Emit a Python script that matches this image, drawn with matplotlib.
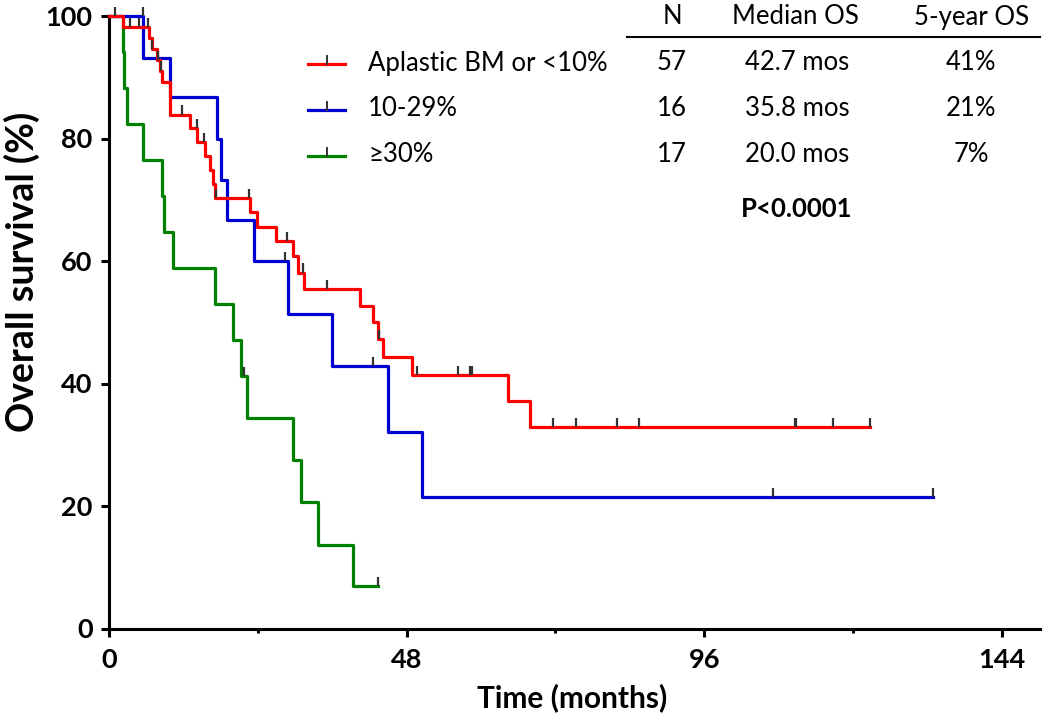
import numpy as np
import matplotlib
matplotlib.use("Agg")
import matplotlib.pyplot as plt
from matplotlib.lines import Line2D

plt.rcParams['font.family'] = ['Lato', 'DejaVu Sans']

# ---- data ----
red_t = [0, 2.16, 6.45, 6.84, 7.75, 8.18, 8.46, 9.80, 13.02, 14.2, 15.43, 16.24, 16.69, 17.06,
         22.7, 23.8, 26.9, 29.6, 30.5, 31.4, 40.5, 42.6, 43.4, 44.1, 48.8, 64.4, 67.9]
red_s = [100, 98.2, 96.4, 94.6, 92.8, 91.1, 89.3, 83.9, 81.7, 79.4, 77.2, 74.9, 72.6, 70.3,
         68.0, 65.6, 63.2, 60.8, 58.1, 55.4, 52.7, 50.0, 47.2, 44.3, 41.4, 37.1, 32.9]
red_end = 122.8
red_cens = [0.9, 3.3, 4.8, 6.2, 6.9, 7.8, 8.3, 11.7, 14.1, 15.3, 17.2, 22.6, 28.6, 31.2, 35.2,
            43.6, 49.7, 56.2, 58.2, 58.6, 71.6, 75.3, 82.0, 85.5, 110.6, 110.9, 116.8, 122.8]

blue_t = [0, 5.49, 9.80, 17.33, 17.98, 18.94, 23.35, 28.9, 36.0, 44.9, 50.4]
blue_s = [100, 93.2, 86.7, 80.0, 73.3, 66.7, 60.0, 51.4, 42.8, 32.1, 21.4]
blue_end = 133.0
blue_cens = [5.4, 28.4, 42.5, 107.1, 133.0]

green_t = [0, 2.16, 2.37, 2.81, 5.49, 8.46, 8.83, 10.33, 17.06, 19.9, 21.2, 22.2, 29.7, 31.0, 33.7, 39.4]
green_s = [100, 94.1, 88.2, 82.4, 76.5, 70.6, 64.7, 58.8, 52.9, 47.1, 41.2, 34.3, 27.5, 20.6, 13.7, 6.9]
green_end = 43.4
green_cens = [21.7, 43.4]

group_labels = ["Aplastic BM or <10%", "10-29%", "\u226530%"]
n_values = ["57", "16", "17"]
median_os = ["42.7 mos", "35.8 mos", "20.0 mos"]
five_year = ["41%", "21%", "7%"]
header = ["N", "Median OS", "5-year OS"]
p_value = "P<0.0001"
colors = ["#FF0000", "#0000D0", "#008000"]

x_major = [0, 48, 96, 144]
x_minor = [24, 72, 120]
y_ticks = [0, 20, 40, 60, 80, 100]

W, H = 1050, 721
fig = plt.figure(figsize=(W / 100, H / 100), dpi=100)

def fx(px):
    return px / W

def fy(py):
    return 1 - py / H

x0, x1 = 109.3, 1040
y0, y1 = 628.5, 16
ax = fig.add_axes([fx(x0), fy(y0), fx(x1) - fx(x0), (y0 - y1) / H])
ax.set_xlim(0, 150.2)
ax.set_ylim(0, 100)

curves = [(red_t, red_s, red_end, red_cens), (blue_t, blue_s, blue_end, blue_cens),
          (green_t, green_s, green_end, green_cens)]
for idx in [2, 1, 0]:
    t, s, end, cens = curves[idx]
    tt = list(t) + [end]
    ss = list(s) + [s[-1]]
    ax.step(tt, ss, where='post', color=colors[idx], lw=2.3, clip_on=False, zorder=3 + (2 - idx))
    ta = np.asarray(t)
    sa = np.asarray(s)
    ci = np.searchsorted(ta, np.asarray(cens), side='right') - 1
    lev = sa[ci]
    ax.vlines(cens, lev, lev + 1.5, color='#333333', lw=1.6, zorder=6, clip_on=False)

for sp in ['top', 'right']:
    ax.spines[sp].set_visible(False)
for sp in ['left', 'bottom']:
    ax.spines[sp].set_linewidth(2.2)
ax.spines['left'].set_bounds(0, 100)

ax.set_xticks(x_major)
ax.set_xticks(x_minor, minor=True)
ax.set_yticks(y_ticks)
ax.tick_params(axis='both', which='major', direction='out', length=6, width=2.2, pad=6,
               labelsize=19.5)
ax.tick_params(axis='x', which='minor', direction='out', length=3, width=2.2)
ax.tick_params(axis='x', which='major', pad=8)
for lab in ax.get_xticklabels() + ax.get_yticklabels():
    lab.set_fontweight('bold')

fig.text(fx(22), fy(272), "Overall survival (%)", rotation=90, ha='center', va='center',
         fontsize=27, fontweight='bold')
fig.text(fx(572), fy(698), "Time (months)", ha='center', va='center',
         fontsize=21.5, fontweight='bold')

# legend
row_y = [64, 110, 156]
fs = 18.5
for i in range(3):
    fig.add_artist(Line2D([fx(308), fx(345)], [fy(row_y[i]), fy(row_y[i])], color=colors[i], lw=2.3))
    fig.add_artist(Line2D([fx(326.5), fx(326.5)], [fy(row_y[i]), fy(row_y[i] - 8)], color='#333333', lw=1.4))
    fig.text(fx(368), fy(row_y[i] - 1), group_labels[i], ha='left', va='center', fontsize=fs)
    fig.text(fx(672), fy(row_y[i] - 1), n_values[i], ha='center', va='center', fontsize=fs)
    fig.text(fx(797), fy(row_y[i] - 1), median_os[i], ha='center', va='center', fontsize=fs)
    fig.text(fx(971), fy(row_y[i] - 1), five_year[i], ha='center', va='center', fontsize=fs)

hx = [672, 795, 972]
for i in range(3):
    fig.text(fx(hx[i]), fy(17), header[i], ha='center', va='center', fontsize=fs)
fig.add_artist(Line2D([fx(627), fx(1040)], [fy(37), fy(37)], color='black', lw=1.5))
fig.text(fx(797), fy(209), p_value, ha='center', va='center', fontsize=fs, fontweight='bold')

fig.savefig("out.png", dpi=100)
